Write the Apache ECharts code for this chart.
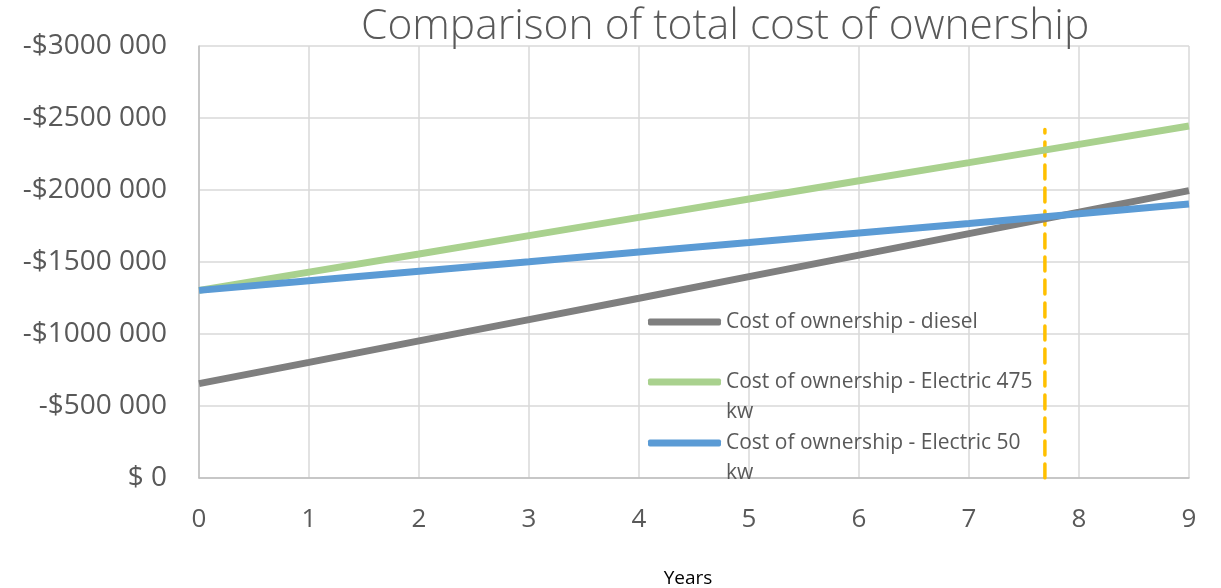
<!DOCTYPE html>
<html><head><meta charset="utf-8">
<script src="https://cdn.jsdelivr.net/npm/echarts@6/dist/echarts.min.js"></script>
<style>html,body{margin:0;padding:0;background:#fff}#c{width:1221px;height:588px}</style>
</head><body><div id="c"></div>
<script>
const years = [0, 1, 2, 3, 4, 5, 6, 7, 8, 9];
const diesel = [-655000, -803000, -952000, -1100000, -1248000, -1398000, -1548000, -1697000, -1846000, -1996000];
const electric475 = [-1303000, -1430000, -1556000, -1683000, -1810000, -1937000, -2064000, -2190000, -2317000, -2444000];
const electric50 = [-1303000, -1370000, -1436000, -1502000, -1569000, -1635000, -1702000, -1768000, -1835000, -1903000];
const breakEvenX = 7.69;
const breakEvenTop = -2420000;
const yTicks = [0, -500000, -1000000, -1500000, -2000000, -2500000, -3000000];
const names = ['Cost of ownership - diesel', 'Cost of ownership - Electric 475 kw', 'Cost of ownership - Electric 50 kw'];
const colors = ['#7f7f7f', '#a9d18e', '#5b9bd5'];

const FONT = '"Open Sans", "Noto Sans", sans-serif';
function pairs(v) { return years.map((x, i) => [x, v[i]]); }
function fmtY(v) {
  if (v === 0) return '$ 0';
  const a = Math.abs(v);
  return '-$' + Math.floor(a / 1000) + ' ' + String(a % 1000).padStart(3, '0');
}
const legendNames = {};
legendNames[names[0]] = 'Cost of ownership - diesel';
legendNames[names[1]] = ' \nCost of ownership - Electric 475\nkw';
legendNames[names[2]] = ' \nCost of ownership - Electric 50\nkw';

function mkLegend(i, top) {
  return {
    data: [{ name: names[i], icon: 'roundRect', itemStyle: { color: colors[i] } }],
    left: 648, top: top, orient: 'vertical',
    itemWidth: 73, itemHeight: 7, itemGap: 0, padding: 0,
    selectedMode: false,
    formatter: n => legendNames[n],
    textStyle: { fontFamily: FONT, fontSize: 21, color: '#595959', lineHeight: 30 }
  };
}

const chart = echarts.init(document.getElementById('c'));
chart.setOption({
  animation: false,
  title: {
    text: 'Comparison of total cost of ownership', left: 356, top: 0,
    textStyle: { fontFamily: FONT, fontSize: 42.5, fontWeight: 300, color: '#595959' }
  },
  legend: [mkLegend(0, 307), mkLegend(1, 337), mkLegend(2, 398)],
  grid: { left: 199, right: 32, top: 46, bottom: 110, outerBoundsMode: 'none', containLabel: false },
  xAxis: {
    type: 'value', min: 0, max: 9, interval: 1,
    name: 'Years', nameLocation: 'middle', nameGap: 91,
    nameTextStyle: { fontFamily: FONT, fontSize: 19, color: '#000', padding: [0, 12, 0, 0] },
    axisLine: { show: true, lineStyle: { color: '#bfbfbf', width: 1.5 } },
    axisTick: { show: false },
    axisLabel: { fontFamily: FONT, fontSize: 26, color: '#595959', margin: 29 },
    splitLine: { show: true, lineStyle: { color: '#d9d9d9', width: 1.5 } }
  },
  yAxis: {
    type: 'value', inverse: true, min: -3000000, max: 0, interval: 500000,
    axisLine: { show: true, lineStyle: { color: '#bfbfbf', width: 1.5 } },
    axisTick: { show: false },
    axisLabel: { fontFamily: FONT, fontSize: 28, color: '#595959', margin: 32, formatter: fmtY },
    splitLine: { show: true, lineStyle: { color: '#d9d9d9', width: 1.5 } }
  },
  series: [
    { name: names[0], type: 'line', data: pairs(diesel), showSymbol: false,
      lineStyle: { color: colors[0], width: 7 }, itemStyle: { color: colors[0] } },
    { name: names[1], type: 'line', data: pairs(electric475), showSymbol: false,
      lineStyle: { color: colors[1], width: 7 }, itemStyle: { color: colors[1] } },
    { name: names[2], type: 'line', data: pairs(electric50), showSymbol: false,
      lineStyle: { color: colors[2], width: 7 }, itemStyle: { color: colors[2] } },
    { name: 'breakeven', type: 'line', data: [[breakEvenX, 0], [breakEvenX, breakEvenTop]], showSymbol: false,
      lineStyle: { color: '#ffc000', width: 3.5, type: [14, 9], cap: 'round' }, z: 1 }
  ]
});
</script></body></html>
